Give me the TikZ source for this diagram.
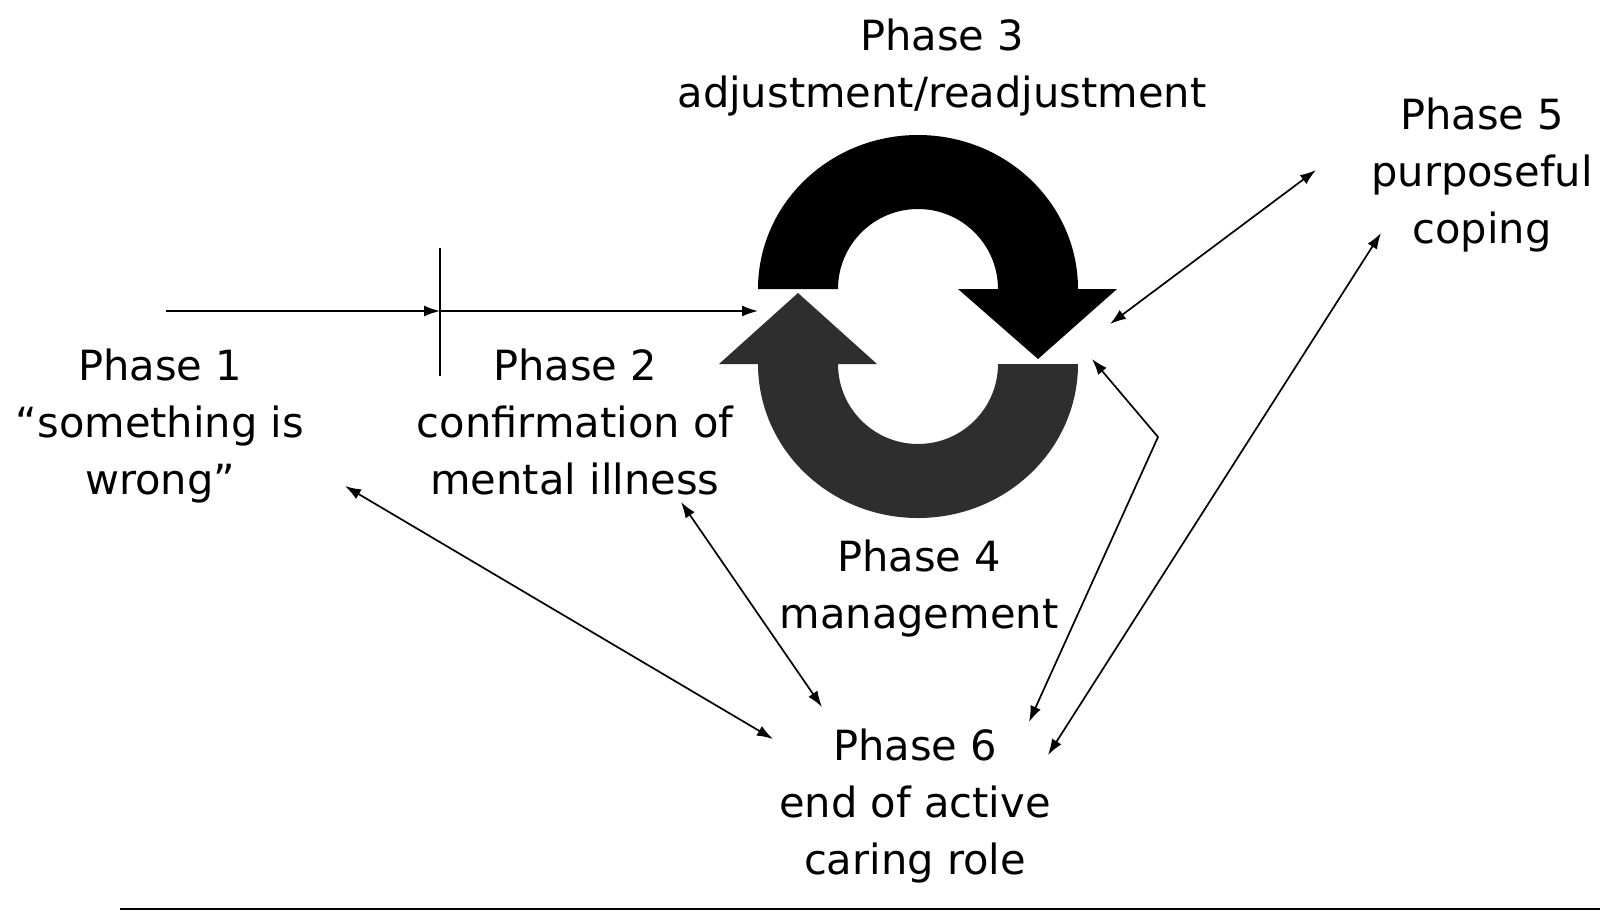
\documentclass[tikz,border=0pt]{standalone}
\usepackage{fontspec}
\setmainfont{DejaVu Sans}
\usetikzlibrary{arrows.meta}
\begin{document}
\begin{tikzpicture}[x=0.5pt,y=-0.5pt,
  lbl/.style={inner sep=0pt,outer sep=0pt,align=center,anchor=north,font=\fontsize{20.8}{28.5}\selectfont},
  conn/.style={draw,line width=0.85pt},
  tip/.style={-{Latex[length=8pt,width=5.5pt]}},
  tips/.style={{Latex[length=8pt,width=5.5pt]}-{Latex[length=8pt,width=5.5pt]}}]
\useasboundingbox (0,0) rectangle (1600,916);
\fill[white] (0,0) rectangle (1600,916);
% cycle arrows
\fill[black] (758,289) arc[start angle=180,end angle=0,x radius=80pt,y radius=77pt]
  -- (1117,289) -- (1038,359) -- (958,289) -- (998,289)
  arc[start angle=0,end angle=180,x radius=40pt,y radius=40pt] -- cycle;
\fill[black!82] (1078,364) arc[start angle=0,end angle=-180,x radius=80pt,y radius=77pt]
  -- (719,364) -- (798,293) -- (877,364) -- (838,364)
  arc[start angle=180,end angle=360,x radius=40pt,y radius=40pt] -- cycle;
% labels
\node[lbl] (p1) at (160,349) {Phase 1\\“something is\\wrong”};
\node[lbl] (p2) at (575,349) {Phase 2\\confirmation of\\mental illness};
\node[lbl] (p3) at (942,19) {Phase 3\\adjustment/readjustment};
\node[lbl] (p4) at (919,540) {Phase 4\\management};
\node[lbl] (p5) at (1482,98) {Phase 5\\purposeful\\coping};
\node[lbl] (p6) at (915,729) {Phase 6\\end of active\\caring role};
% coordinates
\coordinate (h0) at (166,311);
\coordinate (tk) at (440,311);
\coordinate (tkT) at (440,248);
\coordinate (tkB) at (440,376);
\coordinate (cyc) at (758,311);
\coordinate (a5) at (1316,170);
\coordinate (a3) at (1110,324);
\coordinate (b5) at (1381,233);
\coordinate (b6) at (1048,755);
\coordinate (c4) at (1092,359);
\coordinate (cb) at (1158,437);
\coordinate (c6) at (1029,722);
\coordinate (d1) at (345,486);
\coordinate (d6) at (773,739);
\coordinate (e2) at (681,502);
\coordinate (e6) at (822,707);
\coordinate (r0) at (120,909);
\coordinate (r1) at (1600,909);
% connectors
\draw[conn,tip] (h0) -- (tk);
\draw[conn,tip] (tk) -- (cyc);
\draw[conn] (tkT) -- (tkB);
\draw[conn,tips] (a5) -- (a3);
\draw[conn,tips] (b5) -- (b6);
\draw[conn,tips] (c4) -- (cb) -- (c6);
\draw[conn,tips] (d1) -- (d6);
\draw[conn,tips] (e2) -- (e6);
\draw[line width=1.4pt] (r0) -- (r1);
\end{tikzpicture}
\end{document}
